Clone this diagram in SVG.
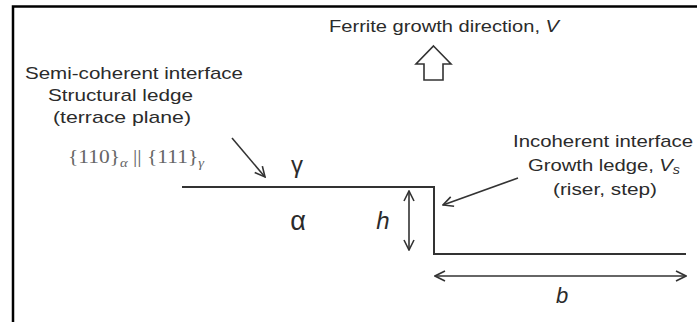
<svg xmlns="http://www.w3.org/2000/svg" width="697" height="322" viewBox="0 0 697 322">
<style>
  .t { font-family: "Liberation Sans", Arial, sans-serif; font-size: 17px; fill: #2b2b2b; }
  .f { font-family: "Liberation Serif", "Times New Roman", serif; font-size: 19px; fill: #666; }
  .ln { fill: none; stroke: #333; stroke-width: 2; }
  .ar { fill: none; stroke: #333; stroke-width: 1.6; }
  .big { font-size: 24px; }
  .sub { font-size: 13px; font-style: italic; }
</style>
<defs>
  <marker id="ah" viewBox="0 0 12 12" refX="11" refY="6" markerWidth="12" markerHeight="12" markerUnits="userSpaceOnUse" orient="auto-start-reverse">
    <path d="M1,1 L11,6 L1,11" fill="none" stroke="#333" stroke-width="1.6"/>
  </marker>
</defs>
<rect width="697" height="322" fill="#fff"/>
<g id="frame">
  <path d="M13,322 V6.5 H697" fill="none" stroke="#000" stroke-width="2.5"/>
</g>
<g id="growth-direction">
  <text class="t" x="329" y="32" textLength="230" lengthAdjust="spacingAndGlyphs">Ferrite growth direction, <tspan font-style="italic">V</tspan></text>
  <path d="M433.5,46 L451,64 L443,64 L443,80 L424,80 L424,64 L416,64 Z" fill="#fff" stroke="#333" stroke-width="1.6"/>
</g>
<g id="semi-coherent-label">
  <text class="t" x="25" y="79" textLength="218" lengthAdjust="spacingAndGlyphs">Semi-coherent interface</text>
  <text class="t" x="48" y="101" textLength="145" lengthAdjust="spacingAndGlyphs">Structural ledge</text>
  <text class="t" x="53" y="123" textLength="138" lengthAdjust="spacingAndGlyphs">(terrace plane)</text>
  <text class="f" x="68" y="163" textLength="136" lengthAdjust="spacingAndGlyphs">{110}<tspan class="sub" dy="4">α</tspan><tspan dy="-4"> || {111}</tspan><tspan class="sub" dy="4">γ</tspan></text>
</g>
<g id="interface">
  <path class="ln" d="M182,187 H434 V254 H686"/>
  <text class="t" x="297" y="173" style="font-size:24px" text-anchor="middle">γ</text>
  <text class="t" x="298" y="230" style="font-size:27px" text-anchor="middle">α</text>
  <text class="t big" x="383" y="229" font-style="italic" text-anchor="middle">h</text>
  <text class="t" x="562" y="303" style="font-size:22px" font-style="italic" text-anchor="middle">b</text>
</g>
<g id="incoherent-label">
  <text class="t" x="513" y="147" textLength="180" lengthAdjust="spacingAndGlyphs">Incoherent interface</text>
  <text class="t" x="528" y="171" textLength="152" lengthAdjust="spacingAndGlyphs">Growth ledge, <tspan font-style="italic">V</tspan><tspan font-style="italic" style="font-size:12px" dy="3">s</tspan></text>
  <text class="t" x="553" y="195" textLength="104" lengthAdjust="spacingAndGlyphs">(riser, step)</text>
</g>
<g id="connectors">
  <line class="ar" x1="232" y1="138" x2="265" y2="177" marker-end="url(#ah)"/>
  <line class="ar" x1="518" y1="178" x2="443" y2="205" marker-end="url(#ah)"/>
  <line class="ar" x1="409" y1="191" x2="409" y2="250" marker-start="url(#ah)" marker-end="url(#ah)"/>
  <line class="ar" x1="435" y1="276" x2="686" y2="276" marker-start="url(#ah)" marker-end="url(#ah)"/>
</g>
</svg>
